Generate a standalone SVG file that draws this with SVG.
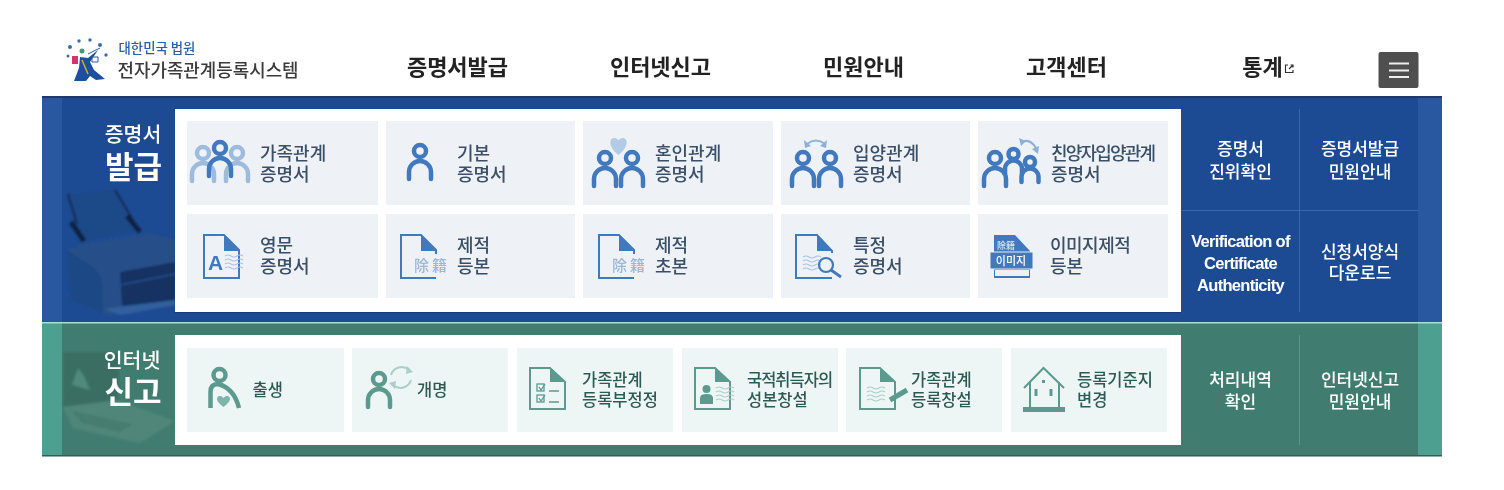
<svg xmlns="http://www.w3.org/2000/svg" width="1504" height="490" viewBox="0 0 1504 490">
<style>
text{font-family:"Noto Sans CJK KR","Noto Sans",sans-serif;font-weight:500}
.nav{font-size:22px;fill:#222;text-anchor:middle;font-weight:700}
.b{font-size:18px;fill:#3a4f66}
.g{font-size:16.500px;fill:#2f5a55}
.s{font-size:17px;fill:#fff;text-anchor:middle}
.en{font-family:"Liberation Sans",sans-serif;font-size:16.500px;font-weight:700;letter-spacing:-.7px}
.hs{font-size:20.500px;fill:#fff;text-anchor:middle}
.hb{font-size:31px;fill:#fff;text-anchor:middle;font-weight:700}
.cb{fill:#eef2f7}.cg{fill:#eef6f5}
.ink{fill:none;stroke:#4179bd;stroke-width:4.500;stroke-linecap:round}
.lit{fill:none;stroke:#9dbcdd;stroke-width:4.500;stroke-linecap:round}
.ing{fill:none;stroke:#5c9a90;stroke-width:4.500;stroke-linecap:round}
.doc{fill:none;stroke:#4179bd;stroke-width:2}
.dog{fill:none;stroke:#5c9a90;stroke-width:2}
.fb{fill:#4179bd}.fg{fill:#5c9a90}
.wav{fill:none;stroke:#a9c3df;stroke-width:1.200}
.wag{fill:none;stroke:#a9cfc8;stroke-width:1.200}
.zh{font-size:15px;fill:#9ab6d8;letter-spacing:3px}
</style>
<defs>
<filter id="soft" filterUnits="userSpaceOnUse" x="0" y="0" width="1504" height="490"><feGaussianBlur stdDeviation="0.350"/></filter>
<filter id="softer" filterUnits="userSpaceOnUse" x="42" y="180" width="140" height="280"><feGaussianBlur stdDeviation="0.900"/></filter>
<g id="pb"><circle cx="0" cy="0" r="6" class="ink"/><path d="M-11 28V21A11 11 0 0 1 11 21V28" class="ink"/></g>
<g id="ps"><circle cx="0" cy="0" r="5" class="ink"/><path d="M-8.500 20V15A8.500 8.500 0 0 1 8.500 15V20" class="ink"/></g>
<g id="pl"><circle cx="0" cy="0" r="6" class="lit"/><path d="M-11 28V21A11 11 0 0 1 11 21V28" class="lit"/></g>
<g id="pg"><circle cx="0" cy="0" r="6" class="ing"/><path d="M-11 28V21A11 11 0 0 1 11 21V28" class="ing"/></g>
<g id="db"><path d="M36 44H1V1H21L36 16Z" class="doc"/><path d="M21 1L36 17H21Z" class="fb"/></g>
<g id="dc"><path d="M36 44H1V1H21L36 16V20" class="doc"/><path d="M21 1L36 17H21Z" class="fb"/></g>
<g id="dg"><path d="M36 42H1V1H21L36 15Z" class="dog"/><path d="M21 1L36 15H21Z" class="fg"/></g>
<path id="wb" d="M0 0q3-2 6 0t6 0 6 0M0 4q3-2 6 0t6 0 6 0M0 8q3-2 6 0t6 0 6 0M0 12q3-2 6 0t6 0 6 0"/>
</defs>
<g filter="url(#soft)">
<g id="header">
<g id="logo">
<path d="M80 57L88 58L98 50L90 62L94 70L105 79L96 80L90 76L86 81L74 81L79 68Z" fill="#1e4f9c"/>
<circle cx="82" cy="51" r="2.500" fill="#3f9b78"/>
<rect x="72" y="56" width="6" height="8" fill="#d6336c"/>
<path d="M82 60L88 74" stroke="#e0a92e" stroke-width="1.500"/>
<path d="M88 54L100 48M92 57h6v5h-6z" fill="none" stroke="#2f5f9f" stroke-width="1"/>
<g fill="#3e6aa8"><circle cx="68" cy="56" r="1.500"/><circle cx="70" cy="47" r="2"/><circle cx="79" cy="41" r="1.700"/><circle cx="90" cy="40" r="1.700"/><circle cx="100" cy="45" r="2"/><circle cx="106" cy="55" r="1.700"/></g>
<text x="118.500" y="52.500" font-size="13.400" fill="#2a5da6" font-weight="700">대한민국 법원</text>
<text x="117.500" y="77" font-size="17.900" fill="#3a3a3a">전자가족관계등록시스템</text>
</g>
<g id="nav">
<text class="nav" x="457.500" y="75">증명서발급</text>
<text class="nav" x="660.500" y="75">인터넷신고</text>
<text class="nav" x="863.500" y="75">민원안내</text>
<text class="nav" x="1066.500" y="75">고객센터</text>
<text class="nav" x="1262.500" y="75">통계</text>
<path d="M1288 65h-2.500v7.500h7.500v-2.500M1289 69l4-4m-2.500 0h2.500v2.500" fill="none" stroke="#333" stroke-width="1.200"/>
</g>
<g id="menu-button">
<rect x="1378.500" y="52" width="40" height="36" rx="2" fill="#4f4f4f"/>
<path d="M1389 63.500h20M1389 70.500h20M1389 77h20" stroke="#eee" stroke-width="2.200"/>
</g>
</g>

<g id="band-blue">
<rect x="42" y="96" width="1400" height="226" fill="#2a58a0"/>
<rect x="62" y="96" width="1356" height="226" fill="#1f4b94"/>
<rect x="42" y="96" width="1400" height="2" fill="#1b3a6c"/>
<g id="printer" filter="url(#softer)">
<path d="M68 194L115 190L140 230L80 242Z" fill="#1d4988"/>
<path d="M68 194L77 224M115 190L134 222" stroke="#12294f" stroke-width="2" fill="none"/>
<path d="M71 222L84 241M127 216L140 232" stroke="#0f2342" stroke-width="5" fill="none"/>
<path d="M67 250L78 245L150 233L175 240V303L107 316L70 300Z" fill="#255089"/>
<path d="M67 250L92 266Q100 272 103 285V314L70 300Z" fill="#1f4886"/>
<path d="M120 272L175 262V302L122 306Z" fill="#133362"/>
<path d="M120 285L175 274" stroke="#27508d" stroke-width="1.500"/>
<path d="M104 309L125 306L175 300V305L120 315Z" fill="#33609d"/>
</g>
<text class="hs" x="133" y="142">증명서</text>
<text class="hb" x="133.500" y="178">발급</text>
<rect id="panel-blue" x="175" y="109" width="1006" height="203" fill="#fff"/>
<path d="M175 312.500H1181" stroke="#163a74" stroke-width="1"/>
<g stroke="#3a66ab" stroke-width="1"><path d="M1299.500 109V312M1181 210.500H1418"/></g>
<text class="s"><tspan x="1240.500" y="155">증명서</tspan><tspan x="1240.500" y="178">진위확인</tspan></text>
<text class="s"><tspan x="1360" y="155">증명서발급</tspan><tspan x="1360" y="178">민원안내</tspan></text>
<text class="s en"><tspan x="1240.500" y="247">Verification of</tspan><tspan x="1240.500" y="269">Certificate</tspan><tspan x="1240.500" y="291">Authenticity</tspan></text>
<text class="s"><tspan x="1360" y="258">신청서양식</tspan><tspan x="1360" y="279">다운로드</tspan></text>
</g>

<g id="band-green">
<rect x="42" y="322" width="1400" height="134" fill="#4ea08f"/>
<rect x="62" y="322" width="1356" height="134" fill="#417d70"/>
<rect x="42" y="322" width="1400" height="1.500" fill="#a9dcdc"/>
<rect x="42" y="455" width="1400" height="1.500" fill="#2f5f55"/>
<g id="laptop" filter="url(#softer)">
<path d="M63 352H120L118 400L63 407Z" fill="#3a6e63"/>
<path d="M63 407L118 400L175 421L140 443L73 428Z" fill="#4f8679"/>
<path d="M72 411L132 424L120 432L82 423Z" fill="#467c70"/>
<path d="M78 368L84 376L90 390L72 385Z" fill="#518a7d"/>
</g>
<text class="hs" x="132" y="368">인터넷</text>
<text class="hb" x="133" y="403">신고</text>
<rect id="panel-green" x="175" y="335" width="1006" height="110" fill="#fff"/>
<path d="M1299.500 335V445" stroke="#5a9689" stroke-width="1"/>
<text class="s"><tspan x="1240.500" y="386">처리내역</tspan><tspan x="1240.500" y="408">확인</tspan></text>
<text class="s"><tspan x="1360" y="386">인터넷신고</tspan><tspan x="1360" y="408">민원안내</tspan></text>
</g>

<g id="card-family"><rect class="cb" x="187" y="121" width="191" height="84"/>
<use href="#pl" x="203" y="153"/><use href="#pl" x="237" y="153"/><use href="#pb" x="220" y="148"/>
<text class="b" x="260" y="159.500">가족관계</text><text class="b" x="260" y="180.500">증명서</text></g>
<g id="card-basic"><rect class="cb" x="386" y="121" width="189" height="84"/>
<use href="#pb" x="420" y="151"/>
<text class="b" x="457" y="159.500">기본</text><text class="b" x="457" y="180.500">증명서</text></g>
<g id="card-marriage"><rect class="cb" x="583" y="121" width="190" height="84"/>
<path d="M618.500 155C608 147 609 138 614 138C616.500 138 618.500 140 618.500 140C618.500 140 620.500 138 623 138C628 138 629 147 618.500 155Z" fill="#b3cbe6"/>
<use href="#pb" x="605" y="158"/><use href="#pb" x="632" y="158"/>
<text class="b" x="655" y="159.500">혼인관계</text><text class="b" x="655" y="180.500">증명서</text></g>
<g id="card-adoption"><rect class="cb" x="781" y="121" width="189" height="84"/>
<path d="M807 144Q816 137 825 144" fill="none" stroke="#8fb0d6" stroke-width="1.800"/><path d="M804 140L805 148L811 146ZM827 140L826 148L820 146Z" fill="#8fb0d6"/>
<use href="#pb" x="803" y="158"/><use href="#pb" x="830" y="158"/>
<text class="b" x="853" y="159.500">입양관계</text><text class="b" x="853" y="180.500">증명서</text></g>
<g id="card-full-adoption"><rect class="cb" x="978" y="121" width="190" height="84"/>
<path d="M1022 142Q1030 138 1036 148" fill="none" stroke="#8fb0d6" stroke-width="2.200"/><path d="M1019 138L1021 146L1026 141ZM1039 146L1038 154L1032 149Z" fill="#8fb0d6"/>
<use href="#pb" x="995" y="158"/><use href="#ps" x="1013.500" y="154"/><use href="#ps" x="1030" y="162"/>
<text class="b" x="1051" y="159.500" letter-spacing="-1.800">친양자입양관계</text><text class="b" x="1051" y="180.500">증명서</text></g>

<g id="card-english"><rect class="cb" x="187" y="214" width="191" height="84"/>
<use href="#db" x="203" y="234"/>
<text x="208" y="270" font-size="21" style="font-family:'Liberation Sans',sans-serif;font-weight:700" fill="#4179bd">A</text>
<use href="#wb" x="225" y="256" class="wav"/>
<text class="b" x="260" y="251.500">영문</text><text class="b" x="260" y="272.500">증명서</text></g>
<g id="card-removed"><rect class="cb" x="386" y="214" width="189" height="84"/>
<use href="#dc" x="400" y="234"/>
<text class="zh" x="414" y="271">除籍</text>
<text class="b" x="457" y="251.500">제적</text><text class="b" x="457" y="272.500">등본</text></g>
<g id="card-removed-abstract"><rect class="cb" x="583" y="214" width="190" height="84"/>
<use href="#dc" x="598" y="234"/>
<text class="zh" x="612" y="271">除籍</text>
<text class="b" x="655" y="251.500">제적</text><text class="b" x="655" y="272.500">초본</text></g>
<g id="card-specific"><rect class="cb" x="781" y="214" width="189" height="84"/>
<path d="M832 253V251L817 235H796V278H832" class="doc"/><path d="M817 235L832 251H817Z" class="fb"/>
<use href="#wb" x="803" y="257" class="wav"/>
<circle cx="826" cy="265" r="7" fill="none" stroke="#4179bd" stroke-width="2.200"/><path d="M831 270L841 277" stroke="#4179bd" stroke-width="2.800"/>
<text class="b" x="853" y="251.500">특정</text><text class="b" x="853" y="272.500">증명서</text></g>
<g id="card-image"><rect class="cb" x="978" y="214" width="190" height="84"/>
<path d="M994 235H1015L1030 251V278H994Z" class="fb"/>
<rect x="990" y="252" width="43" height="17" fill="#4179bd" stroke="#eef2f7"/>
<rect x="995" y="270" width="34" height="6" fill="#eef2f7"/>
<text x="997" y="249" font-size="9" fill="#d7e4f3">除籍</text>
<text x="1011" y="265" font-size="11" fill="#fff" text-anchor="middle">이미지</text>
<text class="b" x="1050" y="251.500" letter-spacing="-0.500">이미지제적</text><text class="b" x="1050" y="272.500">등본</text></g>

<g id="card-birth"><rect class="cg" x="187" y="348" width="157" height="84"/>
<circle cx="219.500" cy="375" r="6" class="ing"/>
<path d="M210.500 408V392Q210.500 384 218 384Q234 388 239 408" class="ing" style="stroke-linecap:butt"/>
<path d="M223.500 407C215 401 216 396 220 396C222 396 223.500 398 223.500 398C223.500 398 225 396 227 396C231 396 232 401 223.500 407Z" fill="#7cb5aa"/>
<text class="g" x="252.500" y="395.500">출생</text></g>
<g id="card-rename"><rect class="cg" x="352" y="348" width="156" height="84"/>
<use href="#pg" x="379" y="379"/>
<path d="M391 375A11 11 0 0 1 409 370M411 380A11 11 0 0 1 393 385" fill="none" stroke="#a9cfc8" stroke-width="2"/><path d="M407 366L413 372L406 374ZM395 389L389 383L396 381Z" fill="#a9cfc8"/>
<text class="g" x="417" y="395.500">개명</text></g>
<g id="card-correct"><rect class="cg" x="517" y="348" width="156" height="84"/>
<use href="#dg" x="529" y="367"/>
<g fill="none" stroke="#5c9a90" stroke-width="1.300"><rect x="537" y="384" width="7" height="7"/><rect x="537" y="395" width="7" height="7"/><path d="M539 387l2 3 4-6M539 398l2 3 4-6M549 391h10M549 402h10"/></g>
<text class="g" x="582" y="385.500">가족관계</text><text class="g" x="582" y="405.500">등록부정정</text></g>
<g id="card-naturalized"><rect class="cg" x="682" y="348" width="156" height="84"/>
<use href="#dg" x="694" y="367"/>
<circle cx="706.500" cy="389" r="4" class="fg"/><path d="M700 404V398Q700 394 706.500 394Q713 394 713 398V404Z" class="fg"/>
<use href="#wb" x="716" y="388" class="wag"/>
<text class="g" x="747" y="385.500" letter-spacing="-1">국적취득자의</text><text class="g" x="747" y="405.500">성본창설</text></g>
<g id="card-create"><rect class="cg" x="846" y="348" width="156" height="84"/>
<use href="#dg" x="859" y="367"/>
<use href="#wb" x="867" y="388" class="wag"/>
<path d="M890 400L907 390" stroke="#5c9a90" stroke-width="5"/>
<text class="g" x="911" y="385.500">가족관계</text><text class="g" x="911" y="405.500">등록창설</text></g>
<g id="card-domicile"><rect class="cg" x="1011" y="348" width="156" height="84"/>
<path d="M1024 388L1043.500 368L1064 388M1030 382V408M1059 382V408" fill="none" stroke="#5c9a90" stroke-width="2"/>
<rect x="1023" y="407" width="42" height="5" fill="#5c9a90"/>
<rect x="1034.500" y="389" width="3" height="7" class="fg"/><rect x="1049.500" y="389" width="3" height="7" class="fg"/><rect x="1042" y="380" width="3" height="3" class="fg"/>
<text class="g" x="1077" y="385.500">등록기준지</text><text class="g" x="1077" y="405.500">변경</text></g>
</g>
</svg>
